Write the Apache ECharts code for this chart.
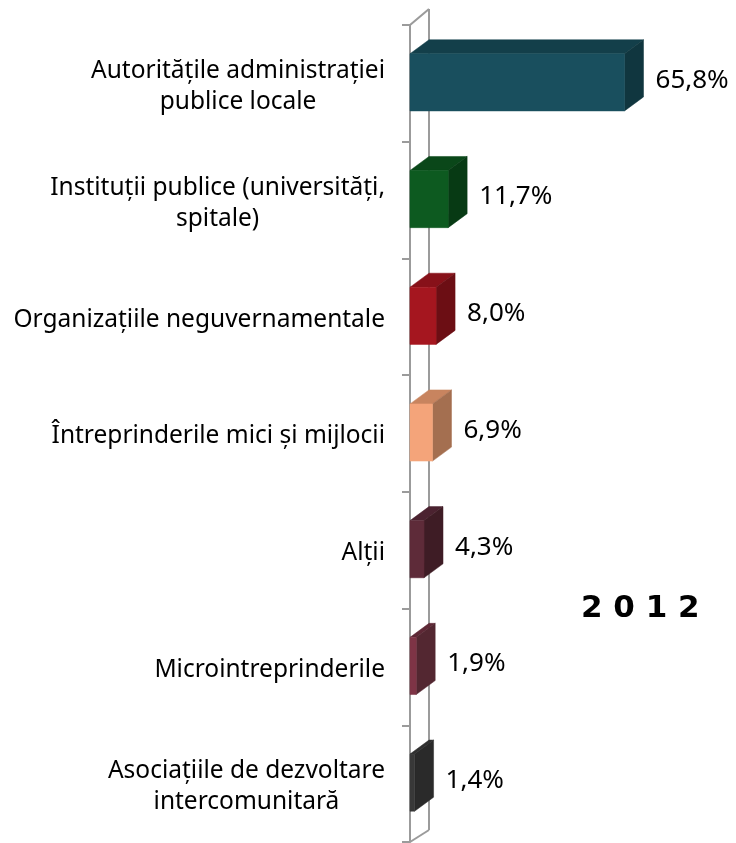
<!DOCTYPE html>
<html>
<head>
<meta charset="utf-8">
<script src="https://cdn.jsdelivr.net/npm/echarts@6/dist/echarts.min.js"></script>
<style>html,body{margin:0;padding:0;background:#fff;}#c{width:736px;height:843px;}</style>
</head>
<body>
<div id="c"></div>
<script>
const categories = [
  'Autoritățile administrației\npublice locale',
  'Instituții publice (universități,\nspitale)',
  'Organizațiile neguvernamentale',
  'Întreprinderile mici și mijlocii',
  'Alții',
  'Microintreprinderile',
  'Asociațiile de dezvoltare\nintercomunitară'
];
const values = [65.8, 11.7, 8.0, 6.9, 4.3, 1.9, 1.4];
const frontColors = ['#194F5E', '#0D5A20', '#A5161F', '#F4A47A', '#5E2B39', '#7E3446', '#383838'];
const topColors   = ['#133F4A', '#0A4719', '#871119', '#C8845F', '#4B2230', '#5E2836', '#303030'];
const sideColors  = ['#10363F', '#073A14', '#6C0E14', '#A46F50', '#3E1C25', '#532731', '#2A2A2A'];
const yearLabel = '2 0 1 2';

const DX = 19, DY = -14;
const WALL = '#9B9B9B';

const chart = echarts.init(document.getElementById('c'));

function fmt(v) { return v.toFixed(1).replace('.', ',') + '%'; }

chart.setOption({
  animation: false,
  title: {
    text: yearLabel,
    left: 576, top: 588,
    textStyle: { fontFamily: 'DejaVu Sans', fontWeight: 'bold', fontSize: 31, color: '#000' }
  },
  grid: { left: 410, top: 25, width: 326, height: 817 },
  xAxis: { type: 'value', min: 0, max: 100, show: false },
  yAxis: {
    type: 'category', data: categories, inverse: true,
    axisLine: { show: true, lineStyle: { color: WALL, width: 2 } },
    axisTick: { show: true, length: 8, lineStyle: { color: WALL, width: 2 } },
    axisLabel: {
      margin: 25,
      padding: [6, 0, 0, 0],
      formatter: (val) => val.split('\n').map(l => '{c|' + l + '}').join('\n'),
      rich: { c: { align: 'center', fontSize: 24.5, fontFamily: 'Noto Sans', lineHeight: 31, color: '#000' } }
    },
    splitLine: { show: false }
  },
  series: [
    {
      type: 'custom', z: 1, silent: true,
      data: [[0, 0]],
      renderItem: function (params, api) {
        const cs = params.coordSys;
        const x = cs.x, top = cs.y, bot = cs.y + cs.height;
        const st = { stroke: WALL, lineWidth: 2, fill: null };
        return {
          type: 'group',
          children: [
            { type: 'line', shape: { x1: x + DX, y1: top + DY - 2, x2: x + DX, y2: bot + DY + 2 }, style: st },
            { type: 'line', shape: { x1: x, y1: top, x2: x + DX, y2: top + DY - 2 }, style: st },
            { type: 'line', shape: { x1: x, y1: bot, x2: x + DX, y2: bot + DY + 2 }, style: st }
          ]
        };
      }
    },
    {
      type: 'custom', z: 3, silent: true,
      encode: { x: 1, y: 0 },
      data: values.map((v, i) => [i, v]),
      renderItem: function (params, api) {
        const i = api.value(0), v = api.value(1);
        const s = api.coord([0, i]);
        const e = api.coord([v, i]);
        const bh = api.size([0, 1])[1] * 0.49;
        const y0 = s[1] - bh / 2 - 1, y1 = s[1] + bh / 2 - 1;
        const x0 = s[0], x1 = e[0];
        return {
          type: 'group',
          children: [
            { type: 'polygon', shape: { points: [[x0, y0], [x0 + DX, y0 + DY], [x1 + DX, y0 + DY], [x1, y0]] },
              style: { fill: topColors[i], stroke: topColors[i], lineWidth: 0.5 } },
            { type: 'polygon', shape: { points: [[x1, y0], [x1 + DX, y0 + DY], [x1 + DX, y1 + DY], [x1, y1]] },
              style: { fill: sideColors[i], stroke: sideColors[i], lineWidth: 0.5 } },
            { type: 'rect', shape: { x: x0, y: y0, width: x1 - x0, height: y1 - y0 },
              style: { fill: frontColors[i], stroke: frontColors[i], lineWidth: 0.5 } },
            { type: 'text', style: { text: fmt(v), x: x1 + DX + 12, y: (y0 + y1) / 2 + DY / 2 + 5,
              align: 'left', verticalAlign: 'middle', fill: '#000', font: '26px "Noto Sans"' } }
          ]
        };
      }
    }
  ]
});
</script>
</body>
</html>
